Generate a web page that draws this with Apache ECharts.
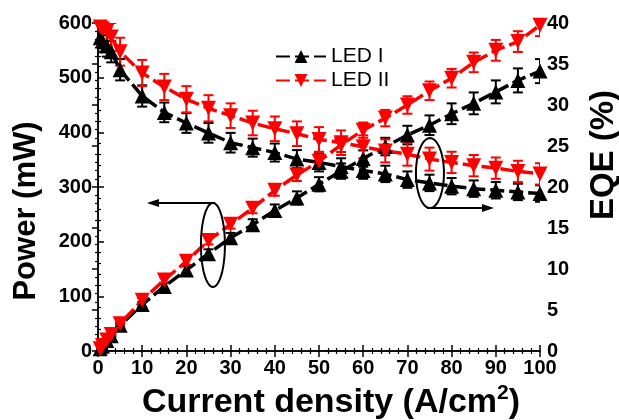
<!DOCTYPE html>
<html><head><meta charset="utf-8">
<script src="https://cdn.jsdelivr.net/npm/echarts@6/dist/echarts.min.js"></script>
<style>html,body{margin:0;padding:0;background:#fff}#c{width:619px;height:420px}</style>
</head><body><div id="c"></div>
<script>
// ---- data ----
const currentDensity = [0.5, 1, 2, 3, 5, 10, 15, 20, 25, 30, 35, 40, 45, 50, 55, 60, 65, 70, 75, 80, 85, 90, 95, 100];
const powerLEDI  = [4, 9, 19, 28, 47, 85, 118, 148, 178, 207, 231, 257, 280, 305, 329, 352, 374, 395, 413, 434, 453, 474, 495, 512];
const powerLEDII = [4, 10, 20, 30, 50, 93, 130, 164, 202, 232, 261, 294, 322, 347, 377, 404, 426, 450, 476, 499, 528, 550, 566, 596];
const powerErrLEDI  = [1, 1, 2, 2, 3, 5, 6, 7, 8, 9, 10, 11, 12, 13, 14, 15, 16, 17, 18, 19, 20, 21, 22, 22];
const powerErrLEDII = [1, 1, 2, 2, 3, 4, 5, 6, 7, 8, 9, 10, 11, 12, 13, 14, 15, 16, 17, 17, 18, 19, 19, 20];
const eqeLEDI  = [38.2, 37.8, 37.2, 36.5, 34.3, 31.1, 29.1, 27.8, 26.6, 25.4, 24.8, 24.2, 23.4, 23.0, 22.5, 22.0, 21.6, 20.9, 20.5, 20.1, 19.8, 19.6, 19.4, 19.2];
const eqeLEDII = [39.5, 39.3, 39.0, 38.3, 36.5, 33.9, 32.2, 30.7, 29.6, 28.7, 27.8, 27.1, 26.5, 25.8, 25.4, 24.9, 24.4, 24.0, 23.4, 23.0, 22.6, 22.3, 21.9, 21.6];
const eqeErrLEDI  = [1.3, 1.3, 1.3, 1.3, 1.3, 1.3, 1.2, 1.2, 1.2, 1.2, 1.1, 1.1, 1.1, 1.1, 1.0, 1.0, 1.0, 1.0, 1.0, 1.0, 1.0, 1.0, 1.0, 1.0];
const eqeErrLEDII = [1.7, 1.7, 1.7, 1.7, 1.7, 1.6, 1.6, 1.6, 1.6, 1.5, 1.5, 1.5, 1.5, 1.5, 1.5, 1.4, 1.4, 1.4, 1.4, 1.3, 1.3, 1.3, 1.3, 1.3];
const seriesNames = ['LED I', 'LED II'];
const xTitle = 'Current density (A/cm';
const yLeftTitle = 'Power (mW)';
const yRightTitle = 'EQE (%)';

const FONT = '"Liberation Sans", Arial, sans-serif';
const BLACK = '#000000', RED = '#ff0000';

function pairs(xs, ys) { return xs.map((x, i) => [x, ys[i]]); }
function errData(xs, ys, es) { return xs.map((x, i) => [x, ys[i] - es[i], ys[i] + es[i]]); }
function errRender(color) {
  return function (params, api) {
    const x = api.value(0);
    const lo = api.coord([x, api.value(1)]);
    const hi = api.coord([x, api.value(2)]);
    const w = 5;
    const style = { stroke: color, lineWidth: 2 };
    return { type: 'group', children: [
      { type: 'line', shape: { x1: lo[0], y1: lo[1], x2: hi[0], y2: hi[1] }, style },
      { type: 'line', shape: { x1: hi[0] - w, y1: hi[1], x2: hi[0] + w, y2: hi[1] }, style },
      { type: 'line', shape: { x1: lo[0] - w, y1: lo[1], x2: lo[0] + w, y2: lo[1] }, style }
    ]};
  };
}
function errSeries(name, yIdx, data, color) {
  return { name, type: 'custom', xAxisIndex: 0, yAxisIndex: yIdx, renderItem: errRender(color),
    data, encode: { x: 0, y: [1, 2] }, clip: true, z: 2, silent: true };
}
function lineSeries(name, yIdx, data, color, down) {
  return { name, type: 'line', xAxisIndex: 0, yAxisIndex: yIdx, data,
    symbol: 'triangle', symbolSize: 15, symbolRotate: down ? 180 : 0,
    itemStyle: { color, borderWidth: 0 }, lineStyle: { color, width: 3.5, type: [14, 5] },
    z: 3, clip: true, animation: false };
}

const axisLine = { show: true, lineStyle: { color: BLACK, width: 1.5 } };
const labelStyle = { color: BLACK, fontSize: 20, fontWeight: 'bold', fontFamily: FONT };

const chart = echarts.init(document.getElementById('c'), null, { renderer: 'canvas' });
const option = {
  animation: false,
  backgroundColor: '#fff',
  grid: { left: 98, right: 79, top: 23, bottom: 69, containLabel: false, outerBoundsMode: 'none' },
  legend: {
    data: seriesNames, orient: 'vertical', left: 270, top: 41, itemWidth: 50, itemHeight: 16, itemGap: 3,
    textStyle: { fontSize: 21, fontFamily: FONT, color: BLACK }, selectedMode: false
  },
  xAxis: [
    { type: 'value', min: 0, max: 100, interval: 10, position: 'bottom',
      axisLine, axisTick: { inside: true, length: 6, lineStyle: { width: 1.5, color: BLACK } },
      minorTick: { show: true, splitNumber: 5, length: 3, lineStyle: { width: 1.2, color: BLACK } },
      splitLine: { show: false }, axisLabel: Object.assign({ margin: 7 }, labelStyle),
      name: '{a|' + xTitle + '}{s|2}{a|)}', nameLocation: 'middle', nameGap: 30,
      nameTextStyle: { padding: [0, 0, 0, 24], rich: {
        a: { fontSize: 34, fontWeight: 'bold', fontFamily: FONT, color: BLACK, lineHeight: 40 },
        s: { fontSize: 21, fontWeight: 'bold', fontFamily: FONT, color: BLACK, verticalAlign: 'top', lineHeight: 40 } } } },
    { type: 'value', min: 0, max: 100, interval: 10, position: 'top',
      axisLine, axisTick: { inside: true, length: 6, lineStyle: { width: 1.5, color: BLACK } },
      minorTick: { show: true, splitNumber: 5, length: 3, lineStyle: { width: 1.2, color: BLACK } },
      splitLine: { show: false }, axisLabel: { show: false } }
  ],
  yAxis: [
    { type: 'value', min: 0, max: 600, interval: 100, position: 'left',
      axisLine, axisTick: { inside: true, length: 6, lineStyle: { width: 1.5, color: BLACK } },
      minorTick: { show: true, splitNumber: 5, length: 3, lineStyle: { width: 1.2, color: BLACK } },
      splitLine: { show: false }, axisLabel: Object.assign({ margin: 6 }, labelStyle),
      name: yLeftTitle, nameLocation: 'middle', nameGap: 56, nameRotate: 90,
      nameTextStyle: { fontSize: 31, fontWeight: 'bold', fontFamily: FONT, color: BLACK, padding: [0, 48, 0, 0] } },
    { type: 'value', min: 0, max: 40, interval: 5, position: 'right',
      axisLine, axisTick: { inside: true, length: 6, lineStyle: { width: 1.5, color: BLACK } },
      minorTick: { show: true, splitNumber: 5, length: 3, lineStyle: { width: 1.2, color: BLACK } },
      splitLine: { show: false }, axisLabel: Object.assign({ margin: 7 }, labelStyle),
      name: yRightTitle, nameLocation: 'middle', nameGap: 47, nameRotate: 90,
      nameTextStyle: { fontSize: 33, fontWeight: 'bold', fontFamily: FONT, color: BLACK, padding: [0, 0, 0, 64] } }
  ],
  series: [
    errSeries('errPI', 0, errData(currentDensity, powerLEDI, powerErrLEDI), BLACK),
    errSeries('errEI', 1, errData(currentDensity, eqeLEDI, eqeErrLEDI), BLACK),
    lineSeries(seriesNames[0], 0, pairs(currentDensity, powerLEDI), BLACK, false),
    lineSeries(seriesNames[0], 1, pairs(currentDensity, eqeLEDI), BLACK, false),
    errSeries('errPII', 0, errData(currentDensity, powerLEDII, powerErrLEDII), RED),
    errSeries('errEII', 1, errData(currentDensity, eqeLEDII, eqeErrLEDII), RED),
    lineSeries(seriesNames[1], 0, pairs(currentDensity, powerLEDII), RED, true),
    lineSeries(seriesNames[1], 1, pairs(currentDensity, eqeLEDII), RED, true)
  ]
};
chart.setOption(option);

// ---- annotations: ellipses marking which curves belong to which axis ----
function ellipsePts(cx, cy, rx, ry) {
  const pts = [];
  for (let i = 0; i <= 72; i++) { const t = i / 72 * Math.PI * 2; pts.push([cx + rx * Math.cos(t), cy + ry * Math.sin(t)]); }
  return pts;
}
const c1 = chart.convertToPixel({ xAxisIndex: 0, yAxisIndex: 0 }, [26, 194]);
const c2 = chart.convertToPixel({ xAxisIndex: 0, yAxisIndex: 1 }, [75.1, 21.7]);
const ann = { stroke: BLACK, lineWidth: 2, fill: null };
const y1 = c1[1] - 42, y2 = c2[1] + 35;
chart.setOption({ graphic: [
  { type: 'polyline', shape: { points: ellipsePts(c1[0], c1[1], 12, 42) }, style: ann, z: 10 },
  { type: 'line', shape: { x1: c1[0] + 2, y1: y1, x2: c1[0] - 60, y2: y1 }, style: ann, z: 10 },
  { type: 'polygon', shape: { points: [[c1[0] - 66, y1], [c1[0] - 54, y1 - 4], [c1[0] - 54, y1 + 4]] }, style: { fill: BLACK }, z: 10 },
  { type: 'polyline', shape: { points: ellipsePts(c2[0], c2[1], 14, 35) }, style: ann, z: 10 },
  { type: 'line', shape: { x1: c2[0] - 3, y1: y2, x2: c2[0] + 57, y2: y2 }, style: ann, z: 10 },
  { type: 'polygon', shape: { points: [[c2[0] + 64, y2], [c2[0] + 52, y2 - 4], [c2[0] + 52, y2 + 4]] }, style: { fill: BLACK }, z: 10 }
]});
</script>
</body></html>
